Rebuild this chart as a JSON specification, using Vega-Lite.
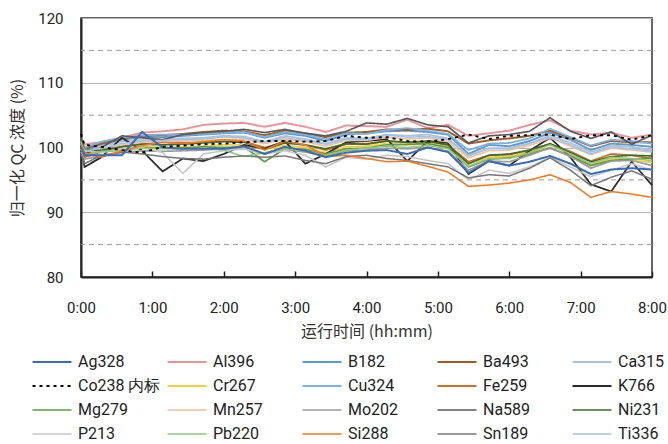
{
  "$schema": "https://vega.github.io/schema/vega-lite/v6.json",
  "width": 571,
  "height": 259,
  "autosize": {"type": "none"},
  "padding": {"left": 81, "top": 18, "right": 16, "bottom": 167},
  "background": "white",
  "config": {
    "view": {"stroke": "#333333", "strokeWidth": 1.5},
    "font": "Roboto",
    "axis": {"labelFont": "Roboto", "titleFont": "Noto Sans CJK SC", "titleFontWeight": "normal", "titleColor": "#333333", "labelColor": "#222222"}
  },
  "datasets": {
    "series": [
      {"t": 0, "Ag328": 100.1, "Al396": 101.0, "B182": 100.8, "Ba493": 101.0, "Ca315": 100.2, "Co238 内标": 102.1, "Cr267": 99.6, "Cu324": 101.2, "Fe259": 100.0, "K766": 100.5, "Mg279": 101.5, "Mn257": 99.8, "Mo202": 99.3, "Na589": 101.5, "Ni231": 100.2, "P213": 100.5, "Pb220": 100.9, "Si288": 100.5, "Sn189": 99.0, "Ti336": 100.5},
      {"t": 3, "Ag328": 98.8, "Al396": 100.5, "B182": 99.5, "Ba493": 99.8, "Ca315": 99.0, "Co238 内标": 100.4, "Cr267": 99.2, "Cu324": 100.0, "Fe259": 98.5, "K766": 97.0, "Mg279": 99.8, "Mn257": 98.9, "Mo202": 98.2, "Na589": 99.0, "Ni231": 99.2, "P213": 99.5, "Pb220": 98.8, "Si288": 99.2, "Sn189": 97.5, "Ti336": 99.4},
      {"t": 17.1, "Ag328": 98.8, "Al396": 100.8, "B182": 100.5, "Ba493": 100.6, "Ca315": 100.2, "Co238 内标": 100.1, "Cr267": 99.3, "Cu324": 100.9, "Fe259": 99.3, "K766": 98.5, "Mg279": 99.3, "Mn257": 99.6, "Mo202": 98.7, "Na589": 100.0, "Ni231": 99.6, "P213": 99.2, "Pb220": 99.4, "Si288": 98.5, "Sn189": 98.8, "Ti336": 99.9},
      {"t": 34.3, "Ag328": 98.8, "Al396": 101.5, "B182": 101.2, "Ba493": 101.4, "Ca315": 100.9, "Co238 内标": 99.6, "Cr267": 99.8, "Cu324": 101.5, "Fe259": 100.2, "K766": 101.5, "Mg279": 99.7, "Mn257": 100.4, "Mo202": 99.2, "Na589": 101.8, "Ni231": 100.1, "P213": 99.8, "Pb220": 99.5, "Si288": 99.5, "Sn189": 99.3, "Ti336": 100.6},
      {"t": 51.4, "Ag328": 102.4, "Al396": 102.3, "B182": 101.6, "Ba493": 101.8, "Ca315": 101.2, "Co238 内标": 99.2, "Cr267": 100.1, "Cu324": 101.9, "Fe259": 100.6, "K766": 99.5, "Mg279": 100.0, "Mn257": 100.8, "Mo202": 99.5, "Na589": 101.5, "Ni231": 100.5, "P213": 100.0, "Pb220": 99.9, "Si288": 100.3, "Sn189": 99.0, "Ti336": 101.0},
      {"t": 68.6, "Ag328": 100.0, "Al396": 102.5, "B182": 101.6, "Ba493": 101.9, "Ca315": 101.3, "Co238 内标": 100.1, "Cr267": 100.0, "Cu324": 102.0, "Fe259": 100.8, "K766": 96.3, "Mg279": 99.9, "Mn257": 100.9, "Mo202": 99.4, "Na589": 101.2, "Ni231": 100.4, "P213": 99.2, "Pb220": 99.8, "Si288": 100.8, "Sn189": 98.6, "Ti336": 101.1},
      {"t": 85.7, "Ag328": 99.8, "Al396": 102.8, "B182": 101.8, "Ba493": 102.1, "Ca315": 101.4, "Co238 内标": 100.3, "Cr267": 100.1, "Cu324": 102.0, "Fe259": 100.7, "K766": 98.3, "Mg279": 99.9, "Mn257": 101.0, "Mo202": 99.5, "Na589": 102.0, "Ni231": 100.5, "P213": 96.0, "Pb220": 99.8, "Si288": 100.6, "Sn189": 98.3, "Ti336": 101.2},
      {"t": 102.9, "Ag328": 99.8, "Al396": 103.5, "B182": 102.0, "Ba493": 102.4, "Ca315": 101.5, "Co238 内标": 100.5, "Cr267": 100.2, "Cu324": 102.1, "Fe259": 100.8, "K766": 97.9, "Mg279": 100.1, "Mn257": 101.1, "Mo202": 99.6, "Na589": 102.3, "Ni231": 100.7, "P213": 99.0, "Pb220": 99.9, "Si288": 100.9, "Sn189": 98.2, "Ti336": 101.3},
      {"t": 120, "Ag328": 99.8, "Al396": 103.7, "B182": 102.2, "Ba493": 102.6, "Ca315": 101.8, "Co238 内标": 100.6, "Cr267": 100.4, "Cu324": 102.3, "Fe259": 101.0, "K766": 99.0, "Mg279": 100.0, "Mn257": 101.2, "Mo202": 99.8, "Na589": 102.5, "Ni231": 100.9, "P213": 99.5, "Pb220": 99.6, "Si288": 101.2, "Sn189": 98.5, "Ti336": 101.6},
      {"t": 137.1, "Ag328": 100.2, "Al396": 103.8, "B182": 102.3, "Ba493": 102.5, "Ca315": 101.7, "Co238 内标": 100.8, "Cr267": 100.4, "Cu324": 102.4, "Fe259": 100.9, "K766": 100.4, "Mg279": 100.1, "Mn257": 101.3, "Mo202": 99.8, "Na589": 102.8, "Ni231": 100.8, "P213": 99.8, "Pb220": 98.6, "Si288": 101.0, "Sn189": 98.7, "Ti336": 101.5},
      {"t": 154.3, "Ag328": 99.0, "Al396": 103.2, "B182": 101.5, "Ba493": 101.9, "Ca315": 100.9, "Co238 内标": 101.0, "Cr267": 99.7, "Cu324": 101.6, "Fe259": 100.0, "K766": 99.8, "Mg279": 97.8, "Mn257": 100.6, "Mo202": 99.0, "Na589": 102.3, "Ni231": 99.7, "P213": 99.0, "Pb220": 99.2, "Si288": 99.6, "Sn189": 98.5, "Ti336": 100.8},
      {"t": 171.4, "Ag328": 100.1, "Al396": 103.8, "B182": 102.2, "Ba493": 102.6, "Ca315": 101.8, "Co238 内标": 101.0, "Cr267": 100.3, "Cu324": 102.4, "Fe259": 100.8, "K766": 101.0, "Mg279": 99.8, "Mn257": 101.3, "Mo202": 99.7, "Na589": 102.8, "Ni231": 100.7, "P213": 99.5, "Pb220": 99.8, "Si288": 101.0, "Sn189": 98.7, "Ti336": 101.5},
      {"t": 188.6, "Ag328": 99.5, "Al396": 103.2, "B182": 101.8, "Ba493": 102.2, "Ca315": 101.3, "Co238 内标": 100.9, "Cr267": 100.0, "Cu324": 102.0, "Fe259": 100.4, "K766": 97.5, "Mg279": 99.7, "Mn257": 100.9, "Mo202": 99.3, "Na589": 102.2, "Ni231": 100.4, "P213": 98.8, "Pb220": 99.5, "Si288": 100.4, "Sn189": 98.0, "Ti336": 101.1},
      {"t": 205.7, "Ag328": 98.5, "Al396": 102.4, "B182": 101.0, "Ba493": 101.6, "Ca315": 100.6, "Co238 内标": 101.0, "Cr267": 99.2, "Cu324": 101.3, "Fe259": 99.6, "K766": 99.0, "Mg279": 99.0, "Mn257": 100.2, "Mo202": 98.6, "Na589": 101.8, "Ni231": 99.8, "P213": 97.0, "Pb220": 98.8, "Si288": 98.6, "Sn189": 97.5, "Ti336": 100.5},
      {"t": 222.9, "Ag328": 99.2, "Al396": 103.4, "B182": 102.0, "Ba493": 102.3, "Ca315": 101.5, "Co238 内标": 101.8, "Cr267": 100.1, "Cu324": 102.2, "Fe259": 100.5, "K766": 100.8, "Mg279": 99.8, "Mn257": 101.1, "Mo202": 99.5, "Na589": 102.5, "Ni231": 100.6, "P213": 98.5, "Pb220": 99.6, "Si288": 98.8, "Sn189": 98.6, "Ti336": 101.3},
      {"t": 240, "Ag328": 99.5, "Al396": 103.3, "B182": 102.2, "Ba493": 102.4, "Ca315": 101.4, "Co238 内标": 101.5, "Cr267": 100.2, "Cu324": 102.1, "Fe259": 100.6, "K766": 101.0, "Mg279": 99.9, "Mn257": 101.1, "Mo202": 99.6, "Na589": 103.8, "Ni231": 100.5, "P213": 98.2, "Pb220": 99.9, "Si288": 98.3, "Sn189": 98.8, "Ti336": 101.2},
      {"t": 257.1, "Ag328": 99.6, "Al396": 103.2, "B182": 102.5, "Ba493": 102.8, "Ca315": 102.0, "Co238 内标": 101.6, "Cr267": 100.6, "Cu324": 102.7, "Fe259": 101.0, "K766": 101.3, "Mg279": 100.4, "Mn257": 101.6, "Mo202": 99.9, "Na589": 103.6, "Ni231": 101.0, "P213": 98.8, "Pb220": 100.2, "Si288": 97.8, "Sn189": 98.3, "Ti336": 101.9},
      {"t": 274.3, "Ag328": 99.0, "Al396": 104.3, "B182": 102.6, "Ba493": 102.7, "Ca315": 101.8, "Co238 内标": 101.0, "Cr267": 100.4, "Cu324": 103.0, "Fe259": 100.8, "K766": 97.9, "Mg279": 100.5, "Mn257": 101.3, "Mo202": 99.8, "Na589": 104.5, "Ni231": 100.8, "P213": 98.6, "Pb220": 100.0, "Si288": 97.9, "Sn189": 98.0, "Ti336": 101.6},
      {"t": 291.4, "Ag328": 100.0, "Al396": 103.0, "B182": 102.4, "Ba493": 102.9, "Ca315": 102.0, "Co238 内标": 100.9, "Cr267": 100.6, "Cu324": 102.6, "Fe259": 100.9, "K766": 101.0, "Mg279": 100.6, "Mn257": 101.5, "Mo202": 100.0, "Na589": 103.5, "Ni231": 101.0, "P213": 98.0, "Pb220": 100.3, "Si288": 97.1, "Sn189": 97.5, "Ti336": 101.7},
      {"t": 308.6, "Ag328": 99.3, "Al396": 103.5, "B182": 102.0, "Ba493": 102.5, "Ca315": 101.4, "Co238 内标": 101.3, "Cr267": 100.1, "Cu324": 102.1, "Fe259": 100.4, "K766": 100.7, "Mg279": 100.0, "Mn257": 100.9, "Mo202": 99.4, "Na589": 103.2, "Ni231": 100.4, "P213": 97.5, "Pb220": 99.8, "Si288": 96.2, "Sn189": 97.0, "Ti336": 101.2},
      {"t": 325.7, "Ag328": 96.1, "Al396": 101.8, "B182": 99.0, "Ba493": 100.6, "Ca315": 98.7, "Co238 内标": 102.0, "Cr267": 97.5, "Cu324": 99.6, "Fe259": 97.8, "K766": 95.9, "Mg279": 97.0, "Mn257": 98.4, "Mo202": 96.5, "Na589": 100.7, "Ni231": 97.5, "P213": 95.0, "Pb220": 97.1, "Si288": 94.0, "Sn189": 95.3, "Ti336": 98.8},
      {"t": 342.9, "Ag328": 97.9, "Al396": 102.2, "B182": 100.4, "Ba493": 101.1, "Ca315": 99.9, "Co238 内标": 101.3, "Cr267": 98.5, "Cu324": 100.6, "Fe259": 98.8, "K766": 97.9, "Mg279": 98.2, "Mn257": 99.5, "Mo202": 97.9, "Na589": 101.8, "Ni231": 98.8, "P213": 96.5, "Pb220": 98.3, "Si288": 94.2, "Sn189": 95.8, "Ti336": 99.8},
      {"t": 360, "Ag328": 97.2, "Al396": 102.6, "B182": 100.2, "Ba493": 101.4, "Ca315": 99.9, "Co238 内标": 101.8, "Cr267": 98.6, "Cu324": 100.7, "Fe259": 98.9, "K766": 97.2, "Mg279": 98.4, "Mn257": 99.6, "Mo202": 97.8, "Na589": 102.0, "Ni231": 99.0, "P213": 96.0, "Pb220": 98.3, "Si288": 94.5, "Sn189": 95.6, "Ti336": 99.8},
      {"t": 377.1, "Ag328": 97.8, "Al396": 103.5, "B182": 101.0, "Ba493": 101.8, "Ca315": 100.6, "Co238 内标": 101.9, "Cr267": 99.3, "Cu324": 101.4, "Fe259": 99.6, "K766": 99.5, "Mg279": 99.0, "Mn257": 100.3, "Mo202": 98.8, "Na589": 102.5, "Ni231": 99.6, "P213": 97.0, "Pb220": 99.2, "Si288": 95.0, "Sn189": 96.8, "Ti336": 100.7},
      {"t": 394.3, "Ag328": 98.7, "Al396": 104.2, "B182": 102.3, "Ba493": 102.6, "Ca315": 101.9, "Co238 内标": 102.0, "Cr267": 99.9, "Cu324": 102.9, "Fe259": 100.5, "K766": 101.5, "Mg279": 99.9, "Mn257": 101.5, "Mo202": 100.0, "Na589": 104.6, "Ni231": 100.6, "P213": 98.5, "Pb220": 100.4, "Si288": 95.8, "Sn189": 98.4, "Ti336": 101.6},
      {"t": 411.4, "Ag328": 97.5, "Al396": 102.6, "B182": 101.2, "Ba493": 101.5, "Ca315": 100.7, "Co238 内标": 101.3, "Cr267": 98.8, "Cu324": 101.6, "Fe259": 99.4, "K766": 98.5, "Mg279": 98.7, "Mn257": 100.2, "Mo202": 98.6, "Na589": 102.5, "Ni231": 99.2, "P213": 97.0, "Pb220": 99.0, "Si288": 94.6, "Sn189": 96.5, "Ti336": 100.4},
      {"t": 428.6, "Ag328": 95.9, "Al396": 102.0, "B182": 99.6, "Ba493": 100.2, "Ca315": 99.3, "Co238 内标": 101.9, "Cr267": 97.3, "Cu324": 100.3, "Fe259": 97.9, "K766": 94.3, "Mg279": 97.2, "Mn257": 98.9, "Mo202": 96.8, "Na589": 101.4, "Ni231": 97.8, "P213": 95.5, "Pb220": 97.5, "Si288": 92.3, "Sn189": 94.1, "Ti336": 99.0},
      {"t": 445.7, "Ag328": 96.6, "Al396": 102.3, "B182": 100.6, "Ba493": 101.0, "Ca315": 100.3, "Co238 内标": 101.9, "Cr267": 98.3, "Cu324": 101.2, "Fe259": 99.0, "K766": 93.2, "Mg279": 98.0, "Mn257": 99.9, "Mo202": 97.9, "Na589": 102.4, "Ni231": 98.6, "P213": 96.5, "Pb220": 98.5, "Si288": 93.2, "Sn189": 95.4, "Ti336": 100.1},
      {"t": 462.9, "Ag328": 96.8, "Al396": 101.5, "B182": 100.4, "Ba493": 100.8, "Ca315": 100.1, "Co238 内标": 101.2, "Cr267": 98.0, "Cu324": 101.0, "Fe259": 98.8, "K766": 97.8, "Mg279": 98.2, "Mn257": 99.6, "Mo202": 98.0, "Na589": 100.5, "Ni231": 98.8, "P213": 97.5, "Pb220": 98.3, "Si288": 92.8, "Sn189": 96.4, "Ti336": 99.8},
      {"t": 480, "Ag328": 96.6, "Al396": 102.0, "B182": 100.1, "Ba493": 100.8, "Ca315": 99.6, "Co238 内标": 101.9, "Cr267": 97.7, "Cu324": 100.6, "Fe259": 98.3, "K766": 94.2, "Mg279": 98.4, "Mn257": 99.3, "Mo202": 97.2, "Na589": 101.9, "Ni231": 98.7, "P213": 96.5, "Pb220": 98.0, "Si288": 92.3, "Sn189": 95.1, "Ti336": 99.4}
    ],
    "dashed": [{"v": 85}, {"v": 95}, {"v": 105}, {"v": 115}]
  },
  "encoding": {
    "y": {
      "field": "v",
      "type": "quantitative",
      "scale": {"domain": [80, 120], "nice": false, "zero": false},
      "axis": {
        "values": [80, 90, 100, 110, 120],
        "grid": true,
        "gridColor": "#b4b4b4",
        "gridWidth": 1,
        "ticks": false,
        "domainColor": "#222222",
        "domainWidth": 2,
        "labelFontSize": 15,
        "labelPadding": 18,
        "labelFlush": false,
        "title": "归一化 QC 浓度 (%)",
        "titleFontSize": 16,
        "titlePadding": 12
      }
    }
  },
  "layer": [
    {
      "data": {"name": "dashed"},
      "mark": {"type": "rule", "color": "#9a9a9a", "strokeDash": [5, 4], "strokeWidth": 1}
    },
    {
      "data": {"name": "series"},
      "transform": [
        {"fold": ["Al396", "B182", "Ba493", "Ca315", "Cr267", "Cu324", "Fe259", "K766", "Mg279", "Mn257", "Mo202", "Na589", "Ni231", "P213", "Pb220", "Sn189", "Ti336", "Si288", "Ag328", "Co238 内标"], "as": ["s", "v"]}
      ],
      "mark": {"type": "line", "strokeCap": "butt", "strokeJoin": "miter"},
      "encoding": {
        "x": {
          "field": "t",
          "type": "quantitative",
          "scale": {"domain": [0, 480], "nice": false, "zero": false},
          "axis": {
            "values": [0, 60, 120, 180, 240, 300, 360, 420, 480],
            "labelExpr": "floor(datum.value / 60) + ':00'",
            "labelFlush": false,
            "labelOverlap": false,
            "grid": false,
            "tickSize": -6,
            "tickColor": "#222222",
            "tickWidth": 1.5,
            "domainColor": "#222222",
            "domainWidth": 2,
            "labelFontSize": 15,
            "labelPadding": 29,
            "title": "运行时间 (hh:mm)",
            "titleFontSize": 16,
            "titlePadding": 8
          }
        },
        "color": {
          "field": "s",
          "type": "nominal",
          "scale": {
            "domain": ["Ag328", "Al396", "B182", "Ba493", "Ca315", "Co238 内标", "Cr267", "Cu324", "Fe259", "K766", "Mg279", "Mn257", "Mo202", "Na589", "Ni231", "P213", "Pb220", "Si288", "Sn189", "Ti336"],
            "range": ["#3a6db5", "#e8949c", "#5b9bd5", "#9e5b26", "#adc2d6", "#000000", "#f2cf3e", "#7eb2dc", "#c9702e", "#2b2b2b", "#5f9b45", "#efbfa6", "#9a9a9a", "#5a5a5a", "#3f6b26", "#c6c6c6", "#93c47d", "#f07a22", "#777777", "#a4c2e2"]
          },
          "legend": {
            "title": null,
            "orient": "none",
            "direction": "horizontal",
            "legendX": -37,
            "legendY": 336,
            "columns": 5,
            "gridAlign": "all",
            "padding": 0,
            "symbolType": "M-3,0H3",
            "symbolSize": 169,
            "labelOffset": 18,
            "labelFont": "Roboto",
            "labelFontSize": 16,
            "labelColor": "#222222",
            "labelLimit": 200,
            "rowPadding": 8,
            "columnPadding": 2
          }
        },
        "strokeDash": {
          "field": "s",
          "type": "nominal",
          "scale": {
            "domain": ["Ag328", "Al396", "B182", "Ba493", "Ca315", "Co238 内标", "Cr267", "Cu324", "Fe259", "K766", "Mg279", "Mn257", "Mo202", "Na589", "Ni231", "P213", "Pb220", "Si288", "Sn189", "Ti336"],
            "range": [[1, 0], [1, 0], [1, 0], [1, 0], [1, 0], [3, 4], [1, 0], [1, 0], [1, 0], [1, 0], [1, 0], [1, 0], [1, 0], [1, 0], [1, 0], [1, 0], [1, 0], [1, 0], [1, 0], [1, 0]]
          },
          "legend": {"title": null}
        },
        "strokeWidth": {
          "field": "s",
          "type": "nominal",
          "scale": {
            "domain": ["Ag328", "Al396", "B182", "Ba493", "Ca315", "Co238 内标", "Cr267", "Cu324", "Fe259", "K766", "Mg279", "Mn257", "Mo202", "Na589", "Ni231", "P213", "Pb220", "Si288", "Sn189", "Ti336"],
            "range": [2, 1.5, 1.5, 1.5, 1.5, 3, 1.5, 1.5, 1.5, 1.5, 1.5, 1.5, 1.5, 1.5, 1.5, 1.5, 1.5, 2, 1.5, 1.5]
          },
          "legend": {"title": null}
        }
      }
    }
  ]
}
